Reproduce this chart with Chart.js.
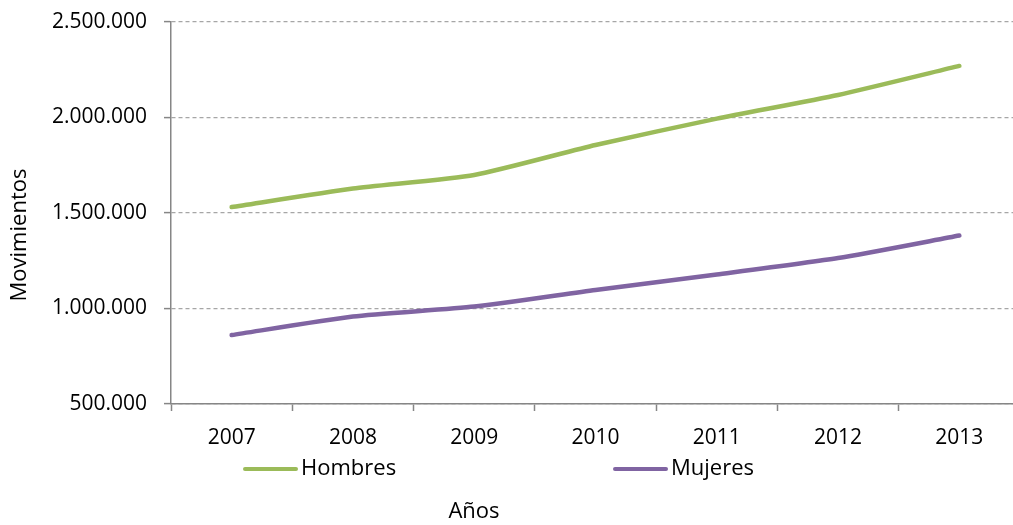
<!DOCTYPE html>
<html>
<head>
<meta charset="utf-8">
<script src="https://cdn.jsdelivr.net/npm/chart.js@4/dist/chart.umd.min.js"></script>
<style>
  html, body { margin: 0; padding: 0; background: #fff; overflow: hidden; }
  /* el area del grafico sigue un poco mas alla del borde, como en el original */
  #wrap { width: 1020px; height: 525px; }
</style>
</head>
<body>
<div id="wrap"><canvas id="chart"></canvas></div>
<script>
// datos
var years = ['2007', '2008', '2009', '2010', '2011', '2012', '2013'];
var hombres = [1531000, 1628000, 1699000, 1856000, 1994000, 2118000, 2270000];
var mujeres = [861000, 958000, 1010000, 1097000, 1178000, 1264000, 1382000];
var yTicks = [500000, 1000000, 1500000, 2000000, 2500000];

var FONT = "'Open Sans', sans-serif";

function fmt(v) {
    return String(v).replace(/\B(?=(\d{3})+(?!\d))/g, '.');
}

// leyenda y titulos dibujados a mano (como en Excel)
var extras = {
    id: 'extras',
    afterDraw: function(chart) {
        var ctx = chart.ctx;
        var legendX = [243, 613];
        ctx.save();
        chart.data.datasets.forEach(function(ds, i) {
            var x = legendX[i], y = 469;
            ctx.strokeStyle = ds.borderColor;
            ctx.lineWidth = 4;
            ctx.lineCap = 'round';
            ctx.beginPath();
            ctx.moveTo(x + 2, y);
            ctx.lineTo(x + 53, y);
            ctx.stroke();
            ctx.fillStyle = '#000';
            ctx.font = '22px ' + FONT;
            ctx.textBaseline = 'middle';
            ctx.textAlign = 'left';
            ctx.fillText(ds.label, x + 58, y);
        });
        ctx.font = '22px ' + FONT;
        ctx.textAlign = 'center';
        ctx.textBaseline = 'middle';
        ctx.fillText('Años', 474, 512);
        ctx.translate(20, 235);
        ctx.rotate(-Math.PI / 2);
        ctx.fillText('Movimientos', 0, 0);
        ctx.restore();
    }
};

new Chart(document.getElementById('chart'), {
    type: 'line',
    data: {
        labels: years,
        datasets: [{
            label: 'Hombres',
            data: hombres,
            borderColor: '#9BBB59',
            borderWidth: 4.5,
            borderCapStyle: 'round',
            pointRadius: 0,
            tension: 0.2
        }, {
            label: 'Mujeres',
            data: mujeres,
            borderColor: '#8064A2',
            borderWidth: 4.5,
            borderCapStyle: 'round',
            pointRadius: 0,
            tension: 0.2
        }]
    },
    options: {
        responsive: true,
        maintainAspectRatio: false,
        animation: false,
        layout: { padding: { top: 22, right: 0, left: 0, bottom: 0 } },
        plugins: {
            legend: { display: false },
            tooltip: { enabled: false }
        },
        scales: {
            x: {
                offset: true,
                afterFit: function(scale) {
                    scale.height = 121;
                    scale.paddingLeft = 0;
                    scale.paddingRight = 0;
                },
                grid: {
                    offset: true,
                    drawOnChartArea: false,
                    drawTicks: true,
                    tickLength: 7,
                    tickColor: '#868686',
                    tickWidth: 1.5
                },
                border: { color: '#868686', width: 1.5 },
                ticks: {
                    color: '#000',
                    padding: 14,
                    font: { family: FONT, size: 21 }
                }
            },
            y: {
                min: 500000,
                max: 2500000,
                afterFit: function(scale) {
                    scale.width = 171;
                    scale.paddingTop = 0;
                    scale.paddingBottom = 0;
                },
                afterBuildTicks: function(scale) {
                    scale.ticks = yTicks.map(function(v) { return { value: v }; });
                },
                grid: {
                    color: '#A6A6A6',
                    lineWidth: 1.2,
                    drawTicks: true,
                    tickLength: 7,
                    tickColor: '#868686',
                    tickWidth: 1.5,
                    tickBorderDash: []
                },
                border: { color: '#868686', width: 1.5, dash: [4, 3] },
                ticks: {
                    color: '#000',
                    padding: 17,
                    font: { family: FONT, size: 21 },
                    callback: function(v) { return fmt(v); }
                }
            }
        }
    },
    plugins: [extras]
});
</script>
</body>
</html>
